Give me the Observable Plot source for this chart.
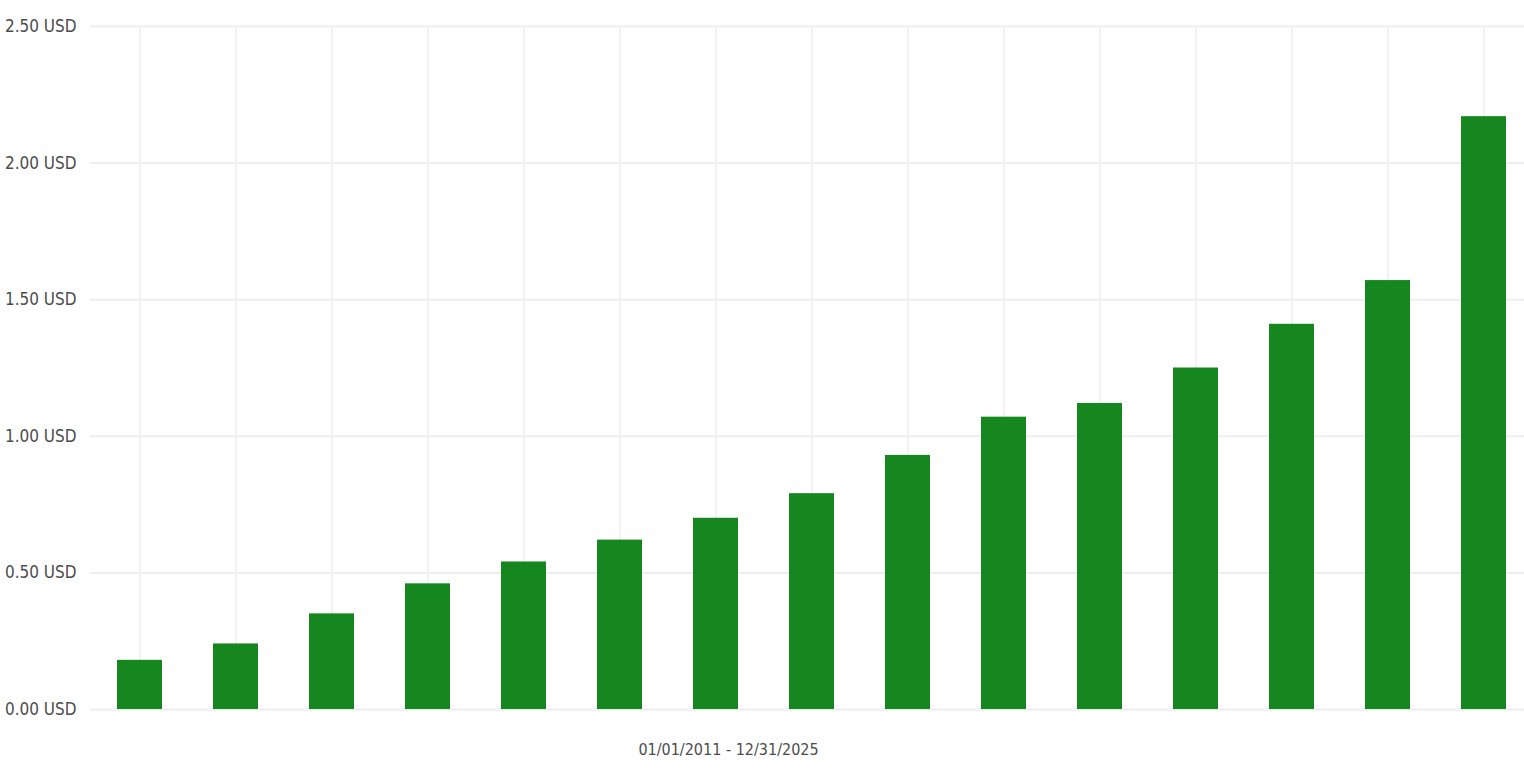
<!DOCTYPE html>
<html>
<head>
<meta charset="utf-8">
<script src="https://cdn.jsdelivr.net/npm/d3@7"></script>
<script src="https://cdn.jsdelivr.net/npm/@observablehq/plot@0.6"></script>
<style>
  html, body { margin: 0; padding: 0; background: #fff; }
  #chart svg { display: block; }
</style>
</head>
<body>
<div id="chart"></div>
<script>
const years = ["2011","2012","2013","2014","2015","2016","2017","2018","2019","2020","2021","2022","2023","2024","2025"];
const dividends = [0.18, 0.24, 0.35, 0.46, 0.54, 0.62, 0.70, 0.79, 0.93, 1.07, 1.12, 1.25, 1.41, 1.57, 2.17];
const yTicks = [0, 0.5, 1.0, 1.5, 2.0, 2.5];
const periodLabel = "01/01/2011 - 12/31/2025";

const data = years.map((y, i) => ({year: y, value: dividends[i]}));

const font = "'Liberation Sans Narrow', 'DejaVu Sans Condensed', 'Roboto', sans-serif";

const chart = Plot.plot({
  width: 1524,
  height: 770,
  marginLeft: 90,
  marginRight: 0,
  marginTop: 26,
  marginBottom: 61,
  style: {fontFamily: font, fontSize: "17px", color: "#4d4d4d", background: "#fff"},
  x: {domain: years, paddingInner: 0.53, paddingOuter: 0.227, align: 0.6, axis: null},
  y: {domain: [0, 2.5], ticks: yTicks, tickFormat: d => d.toFixed(2) + " USD", label: null},
  marks: [
    Plot.ruleY(yTicks, {stroke: "#eeeeee", strokeWidth: 2}),
    Plot.ruleX(years, {x: d => d, stroke: "#f2f2f2", strokeWidth: 2}),
    Plot.axisY({ticks: yTicks, tickSize: 0, tickPadding: 14, tickFormat: d => d.toFixed(2) + " USD", label: null, fill: "#4d4d4d", fontSize: 17}),
    Plot.barY(data, {x: "year", y: "value", fill: "#16871f"}),
    Plot.text([periodLabel], {text: d => d, frameAnchor: "bottom-left", dx: 638, dy: 45, textAnchor: "middle", fill: "#4d4d4d", fontSize: 16})
  ]
});
document.getElementById("chart").appendChild(chart);
</script>
</body>
</html>
